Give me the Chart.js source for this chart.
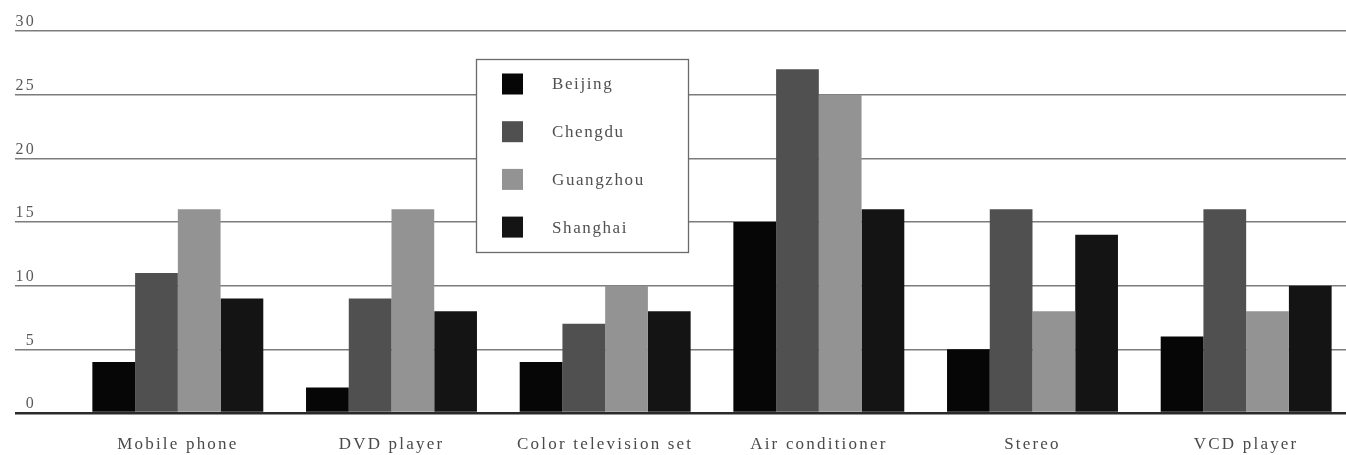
<!DOCTYPE html>
<html>
<head>
<meta charset="utf-8">
<title>Household appliances by city</title>
<style>
  html, body { margin: 0; padding: 0; background: #ffffff; overflow: hidden; }
  #wrap { position: relative; width: 1356px; height: 455px; }
</style>
<script src="https://cdn.jsdelivr.net/npm/chart.js@4.4.1/dist/chart.umd.min.js"></script>
</head>
<body>
<div id="wrap"><canvas id="chart"></canvas></div>
<script>
// Product categories along the x axis
const categories = ['Mobile phone', 'DVD player', 'Color television set', 'Air conditioner', 'Stereo', 'VCD player'];

// One series per city
const cities = ['Beijing', 'Chengdu', 'Guangzhou', 'Shanghai'];
const beijing   = [4, 2, 4, 15, 5, 6];
const chengdu   = [11, 9, 7, 27, 16, 16];
const guangzhou = [16, 16, 10, 25, 8, 8];
const shanghai  = [9, 8, 8, 16, 14, 10];

// Value axis
const yMin = 0;
const yMax = 30;
const yStep = 5;

const cityColors = ['#060606', '#505050', '#939393', '#141414'];
const seriesValues = [beijing, chengdu, guangzhou, shanghai];

const serif = '"Liberation Serif", "DejaVu Serif", serif';

// Spaced-out serif lettering for axis text
const letterSpacingPlugin = {
  id: 'letterSpacing',
  beforeDraw(chart, args, opts) {
    chart.ctx.letterSpacing = opts.value;
  },
  afterDraw(chart) {
    chart.ctx.letterSpacing = '0px';
  }
};

// Framed legend box floating over the plot
const boxLegend = {
  id: 'boxLegend',
  afterDraw(chart, args, o) {
    const ctx = chart.ctx;
    ctx.save();
    ctx.fillStyle = '#ffffff';
    ctx.fillRect(o.x, o.y, o.w, o.h);
    ctx.strokeStyle = o.borderColor;
    ctx.lineWidth = 1.3;
    ctx.strokeRect(o.x + 0.5, o.y + 0.5, o.w, o.h);
    ctx.font = o.font;
    ctx.textBaseline = 'middle';
    ctx.textAlign = 'left';
    ctx.letterSpacing = o.letterSpacing;
    chart.data.datasets.forEach((ds, i) => {
      const cy = o.y + o.firstRow + i * o.rowGap;
      ctx.fillStyle = ds.backgroundColor;
      ctx.fillRect(o.x + o.swatchLeft, cy - o.swatch / 2, o.swatch, o.swatch);
      ctx.fillStyle = o.color;
      ctx.fillText(ds.label, o.x + o.textLeft, cy + 1);
    });
    ctx.restore();
  }
};

new Chart(document.getElementById('chart'), {
  type: 'bar',
  data: {
    labels: categories,
    datasets: cities.map((name, i) => ({
      label: name,
      data: seriesValues[i],
      backgroundColor: cityColors[i],
      borderWidth: 0
    }))
  },
  options: {
    responsive: true,
    maintainAspectRatio: false,
    animation: false,
    devicePixelRatio: 1,
    layout: { padding: { top: 31, right: 3, bottom: 0, left: 0 } },
    datasets: {
      bar: { categoryPercentage: 0.8, barPercentage: 1.0 }
    },
    scales: {
      x: {
        grid: { display: false, drawTicks: false },
        border: { display: false },
        ticks: {
          color: '#4a4a4a',
          font: { family: serif, size: 17 },
          padding: 21,
          maxRotation: 0,
          autoSkip: false
        },
        afterFit(scale) { scale.height = 42; }
      },
      y: {
        min: yMin,
        max: yMax,
        border: { display: false },
        grid: {
          color: (c) => (c.tick && c.tick.value === 0 ? '#2a2a2a' : '#7c7c7c'),
          lineWidth: (c) => (c.tick && c.tick.value === 0 ? 2.5 : 1.5),
          drawTicks: true,
          tickLength: 56
        },
        ticks: {
          stepSize: yStep,
          color: '#5a5a5a',
          font: { family: serif, size: 16 },
          padding: -21,
          labelOffset: -9,
          autoSkip: false
        },
        afterFit(scale) { scale.width = 71; }
      }
    },
    plugins: {
      legend: { display: false },
      tooltip: { enabled: false },
      letterSpacing: { value: '2.2px' },
      boxLegend: {
        x: 476, y: 59, w: 212, h: 193,
        firstRow: 25, rowGap: 47.7,
        swatchLeft: 26, swatch: 21, textLeft: 76,
        borderColor: '#6a6a6a',
        color: '#505050',
        font: '17px ' + serif,
        letterSpacing: '1.6px'
      }
    }
  },
  plugins: [letterSpacingPlugin, boxLegend]
});
</script>
</body>
</html>
